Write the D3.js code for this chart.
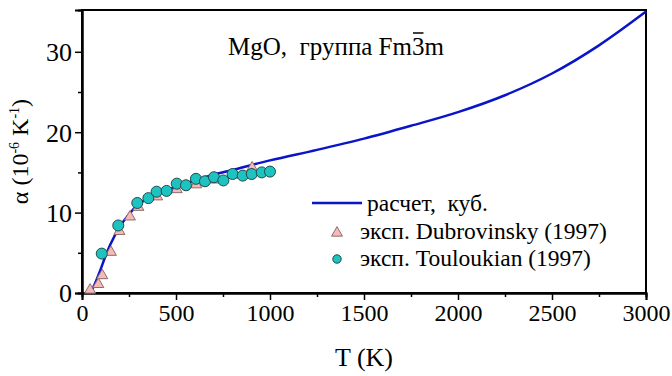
<!DOCTYPE html>
<html>
<head>
<meta charset="utf-8">
<script src="https://cdn.jsdelivr.net/npm/d3@7"></script>
</head>
<body style="margin:0;background:#fff">
<svg id="chart" width="672" height="376" style="display:block"></svg>
<script>
// calculated curve (cubic phase)
const calcT = [50, 75, 100, 125, 150, 200, 250, 300, 400, 500, 600, 700, 800, 1000, 1250, 1500, 1750, 2000, 2250, 2500, 2750, 3000];
const calcAlpha = [0.2, 1.5, 3.0, 4.6, 6.0, 8.2, 9.8, 11.0, 12.3, 13.2, 14.0, 14.7, 15.3, 16.5, 17.8, 19.2, 20.8, 22.5, 24.6, 27.3, 30.8, 35.0];

// Dubrovinsky (1997)
const dubT = [43, 87, 108, 154, 199, 255, 300, 400, 504, 608, 700, 800, 905];
const dubAlpha = [0.5, 1.2, 2.3, 5.2, 7.8, 9.6, 10.8, 12.1, 13.0, 13.6, 14.2, 14.8, 15.7];

// Touloukian (1997)
const toulT = [105, 193, 294, 353, 397, 450, 504, 553, 606, 654, 702, 752, 801, 855, 903, 956, 1000];
const toulAlpha = [4.9, 8.4, 11.2, 11.8, 12.6, 12.7, 13.6, 13.4, 14.2, 13.9, 14.4, 14.0, 14.8, 14.6, 14.8, 15.0, 15.1];

const xTicks = [0, 500, 1000, 1500, 2000, 2500, 3000];
const xMinorTicks = [250, 750, 1250, 1750, 2250, 2750];
const yTicks = [0, 10, 20, 30];
const yMinorTicks = [5, 15, 25];

const legendLabels = ["расчет,\u00a0 куб.", "эксп. Dubrovinsky (1997)", "эксп. Touloukian (1997)"];

const colors = {
    line: "#0a14c8",
    triFill: "#f5b9b6",
    triStroke: "#8c6e6e",
    dotFill: "#1cc3c0",
    dotStroke: "#1f4b4b",
};

const serif = '"Liberation Serif"';

const margin = { left: 82, right: 26, top: 10, bottom: 83 };
const width = 672, height = 376;

const svg = d3.select("#chart");

const x = d3.scaleLinear().domain([0, 3000]).range([margin.left, width - margin.right]);
const y = d3.scaleLinear().domain([0, 35.2]).range([height - margin.bottom, margin.top]);

const label = (sel, size) =>
    sel.style("font-family", serif)
        .attr("font-family", "Liberation Serif")
        .attr("font-size", size)
        .attr("fill", "#000");

// frame
svg.append("rect")
    .attr("x", x(0))
    .attr("y", y(35.2))
    .attr("width", x(3000) - x(0))
    .attr("height", y(0) - y(35.2))
    .attr("fill", "none")
    .attr("stroke", "#000")
    .attr("stroke-width", 2);

// axes
const xAxis = svg.append("g")
    .attr("transform", `translate(0,${y(0)})`)
    .call(d3.axisBottom(x).tickValues(xTicks).tickSize(7).tickPadding(4).tickFormat(d3.format("d")));
svg.append("g")
    .attr("transform", `translate(0,${y(0)})`)
    .call(d3.axisBottom(x).tickValues(xMinorTicks).tickSize(4).tickFormat(""));

const yAxis = svg.append("g")
    .attr("transform", `translate(${x(0)},0)`)
    .call(d3.axisLeft(y).tickValues(yTicks).tickSize(7).tickPadding(3).tickFormat(d3.format("d")));
svg.append("g")
    .attr("transform", `translate(${x(0)},0)`)
    .call(d3.axisLeft(y).tickValues(yMinorTicks).tickSize(4).tickFormat(""));

svg.selectAll("g").attr("font-family", "Liberation Serif");
svg.selectAll(".domain").attr("stroke", "#000").attr("stroke-width", 2);
svg.selectAll(".tick line").attr("stroke", "#000").attr("stroke-width", 1.5);
label(xAxis.selectAll(".tick text"), 24);
label(yAxis.selectAll(".tick text"), 26);
yAxis.selectAll(".tick text").attr("dy", "0.34em");

// axis titles
svg.append("text")
    .attr("x", (x(0) + x(3000)) / 2)
    .attr("y", 366)
    .attr("text-anchor", "middle")
    .call(label, 26)
    .text("T (K)");

const yTitle = svg.append("text")
    .attr("transform", `translate(28,${(y(0) + y(35.2)) / 2}) rotate(-90)`)
    .attr("text-anchor", "middle")
    .call(label, 24);
yTitle.append("tspan").text("α (10");
yTitle.append("tspan").attr("dy", -9).attr("font-size", 14).text("-6");
yTitle.append("tspan").attr("dy", 9).text(" K");
yTitle.append("tspan").attr("dy", -9).attr("font-size", 14).text("-1");
yTitle.append("tspan").attr("dy", 9).text(")");

// calculated curve
const line = d3.line()
    .x((d) => x(d[0]))
    .y((d) => y(d[1]))
    .curve(d3.curveMonotoneX);

svg.append("path")
    .datum(calcT.map((t, i) => [t, calcAlpha[i]]))
    .attr("d", line)
    .attr("fill", "none")
    .attr("stroke", colors.line)
    .attr("stroke-width", 2.5);

// markers
const tri = d3.symbol().type(d3.symbolTriangle).size(52);

svg.append("g")
    .selectAll("path")
    .data(dubT.map((t, i) => [t, dubAlpha[i]]))
    .join("path")
    .attr("d", tri)
    .attr("transform", (d) => `translate(${x(d[0])},${y(d[1]) + 1})`)
    .attr("fill", colors.triFill)
    .attr("stroke", colors.triStroke)
    .attr("stroke-width", 1);

svg.append("g")
    .selectAll("circle")
    .data(toulT.map((t, i) => [t, toulAlpha[i]]))
    .join("circle")
    .attr("cx", (d) => x(d[0]))
    .attr("cy", (d) => y(d[1]))
    .attr("r", 5.5)
    .attr("fill", colors.dotFill)
    .attr("stroke", colors.dotStroke)
    .attr("stroke-width", 1);

// title with overlined 3
const title = svg.append("text")
    .attr("x", 336)
    .attr("y", 55)
    .attr("text-anchor", "middle")
    .call(label, 25);
title.append("tspan").text("MgO,\u00a0 группа Fm");
const bar = title.append("tspan").text("3");
title.append("tspan").text("m");
const bb = bar.node().getBBox();
svg.append("line")
    .attr("x1", bb.x + 1)
    .attr("x2", bb.x + bb.width - 1)
    .attr("y1", bb.y)
    .attr("y2", bb.y)
    .attr("stroke", "#000")
    .attr("stroke-width", 1.5);

// legend
const legend = svg.append("g");
legend.append("line")
    .attr("x1", 312).attr("x2", 362)
    .attr("y1", 203).attr("y2", 203)
    .attr("stroke", colors.line)
    .attr("stroke-width", 2.5);
legend.append("text").attr("x", 367).attr("y", 211).call(label, 23.5).text(legendLabels[0]);

legend.append("path")
    .attr("d", tri)
    .attr("transform", "translate(337,233)")
    .attr("fill", colors.triFill)
    .attr("stroke", colors.triStroke);
legend.append("text").attr("x", 360).attr("y", 239).call(label, 23.5).text(legendLabels[1]);

legend.append("circle")
    .attr("cx", 337).attr("cy", 259)
    .attr("r", 4.2)
    .attr("fill", colors.dotFill)
    .attr("stroke", colors.dotStroke);
legend.append("text").attr("x", 360).attr("y", 266).call(label, 23.5).text(legendLabels[2]);
</script>
</body>
</html>
